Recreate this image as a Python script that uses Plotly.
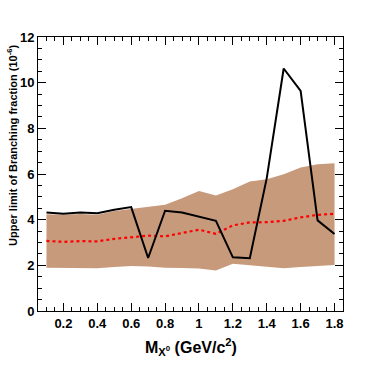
import plotly.graph_objects as go

# masses (GeV/c^2)
mass = [0.1, 0.2, 0.3, 0.4, 0.5, 0.6, 0.7, 0.8, 0.9,
        1.0, 1.1, 1.2, 1.3, 1.4, 1.5, 1.6, 1.7, 1.8]

# observed upper limit (10^-6)
observed = [4.31, 4.26, 4.31, 4.28, 4.43, 4.55, 2.32, 4.39, 4.31,
            4.13, 3.95, 2.35, 2.31, 5.82, 10.62, 9.64, 3.97, 3.37]

# expected median
expected = [3.07, 3.03, 3.06, 3.05, 3.16, 3.24, 3.30, 3.27, 3.40,
            3.56, 3.38, 3.75, 3.88, 3.89, 3.95, 4.10, 4.21, 4.26]

# expected band
band_hi = [4.24, 4.22, 4.25, 4.22, 4.38, 4.47, 4.55, 4.65, 4.94,
           5.26, 5.06, 5.33, 5.67, 5.77, 5.99, 6.28, 6.43, 6.47]
band_lo = [1.89, 1.88, 1.90, 1.87, 1.93, 1.97, 1.95, 1.89, 1.88,
           1.86, 1.77, 2.07, 2.00, 1.93, 1.87, 1.93, 1.99, 2.02]

FONT = "Liberation Sans"
BAND = "rgb(200,154,124)"

fig = go.Figure()

fig.add_trace(go.Scatter(x=mass, y=band_lo, mode="lines",
                         line=dict(width=0, color=BAND), showlegend=False))
fig.add_trace(go.Scatter(x=mass, y=band_hi, mode="lines", fill="tonexty",
                         fillcolor=BAND, line=dict(width=0, color=BAND),
                         showlegend=False))
fig.add_trace(go.Scatter(x=mass, y=expected, mode="lines",
                         line=dict(color="red", width=2.2, dash="dot"),
                         showlegend=False))
fig.add_trace(go.Scatter(x=mass, y=observed, mode="lines",
                         line=dict(color="black", width=2),
                         showlegend=False))

axis_common = dict(
    showgrid=False, zeroline=False, showline=True, linecolor="black",
    linewidth=1, mirror="allticks", ticks="inside", tickcolor="black",
    tickfont=dict(family=FONT, size=13, color="black", weight="bold"),
)

fig.update_xaxes(range=[0.05, 1.85], tick0=0, dtick=0.2, ticklen=8,
                 minor=dict(ticks="inside", dtick=0.05, tick0=0, ticklen=4,
                            tickcolor="black"),
                 **axis_common)
fig.update_yaxes(range=[0, 12], tick0=0, dtick=2, ticklen=8,
                 minor=dict(ticks="inside", dtick=0.5, tick0=0, ticklen=4,
                            tickcolor="black"),
                 **axis_common)

fig.add_annotation(text="M<sub>X<sup>0</sup></sub> (GeV/c<sup>2</sup>)",
                   xref="paper", yref="paper", x=0.5, y=-0.085,
                   xanchor="center", yanchor="top", showarrow=False,
                   font=dict(family=FONT, size=16, color="black", weight="bold"))
fig.add_annotation(text="Upper limit of Branching fraction (10<sup>-6</sup>)",
                   xref="paper", yref="paper", x=-0.085, y=0.982,
                   xanchor="center", yanchor="top", textangle=-90,
                   showarrow=False,
                   font=dict(family=FONT, size=11, color="black", weight="bold"))

fig.update_layout(
    width=382, height=367,
    margin=dict(l=38, r=39, t=37, b=55.5),
    paper_bgcolor="white", plot_bgcolor="white",
    showlegend=False,
)

# drop the browser's default page margin so the figure sits at the top-left
fig.write_html("out.html", config={"displayModeBar": False},
               post_script="document.body.style.margin='0';")
